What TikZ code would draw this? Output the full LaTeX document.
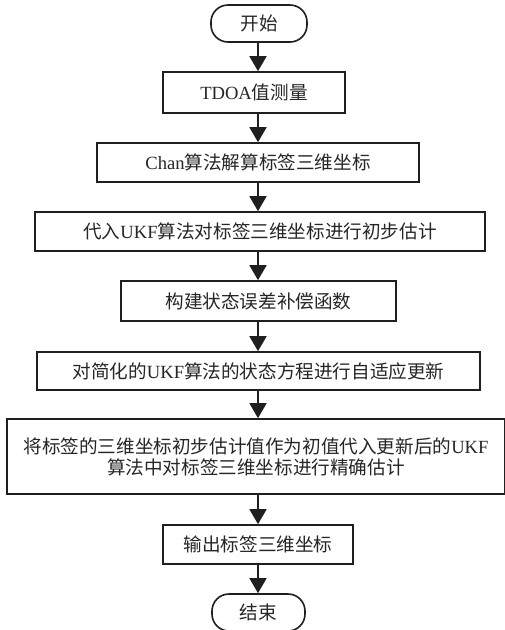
\documentclass[tikz,border=0pt]{standalone}
\usepackage{fontspec}
\setmainfont{Liberation Serif}
\newfontfamily\cjk{Noto Sans CJK SC}
\usetikzlibrary{arrows.meta}
\newcommand{\zh}[1]{{\cjk #1}}
\begin{document}
\begin{tikzpicture}[x=1pt,y=-1pt,
  box/.style={draw=black!88, line width=1.6pt, fill=white, inner sep=0pt,
    font=\fontsize{18.6}{21}\selectfont, text=black!85, align=center},
  term/.style={box, rounded corners=17pt},
  arr/.style={draw=black!88, line width=1.6pt, -{Triangle[width=17pt,length=15pt]}}]
\useasboundingbox (0,0) rectangle (505,630);
\node[term, minimum width=96pt, minimum height=37pt] (start) at (259,23.5) {\zh{开始}};
\node[box, minimum width=182pt, minimum height=41pt] (tdoa) at (254,92.5) {TDOA\zh{值测量}};
\node[box, minimum width=322pt, minimum height=39pt] (chan) at (258,162.5) {Chan\zh{算法解算标签三维坐标}};
\node[box, minimum width=450pt, minimum height=39pt] (ukf) at (260,231.5) {\zh{代入}UKF\zh{算法对标签三维坐标进行初步估计}};
\node[box, minimum width=275pt, minimum height=40pt] (goujian) at (258.5,301) {\zh{构建状态误差补偿函数}};
\node[box, minimum width=443pt, minimum height=38pt] (jianhua) at (258.5,371) {\zh{对简化的}UKF\zh{算法的状态方程进行自适应更新}};
\node[box, minimum width=498pt, minimum height=75pt] (jingque) at (256,456.5) {\zh{将标签的三维坐标初步估计值作为初值代入更新后的}UKF\\\zh{算法中对标签三维坐标进行精确估计}};
\node[box, minimum width=190pt, minimum height=39pt] (shuchu) at (258,544.5) {\zh{输出标签三维坐标}};
\node[term, minimum width=93pt, minimum height=37pt] (end) at (258.5,612.5) {\zh{结束}};
\coordinate (ax) at (258,0);
\foreach \a/\b in {start/tdoa, tdoa/chan, chan/ukf, ukf/goujian, goujian/jianhua, jianhua/jingque, jingque/shuchu, shuchu/end}
  \draw[arr] (ax |- \a.south) -- (ax |- \b.north);
\end{tikzpicture}
\end{document}
